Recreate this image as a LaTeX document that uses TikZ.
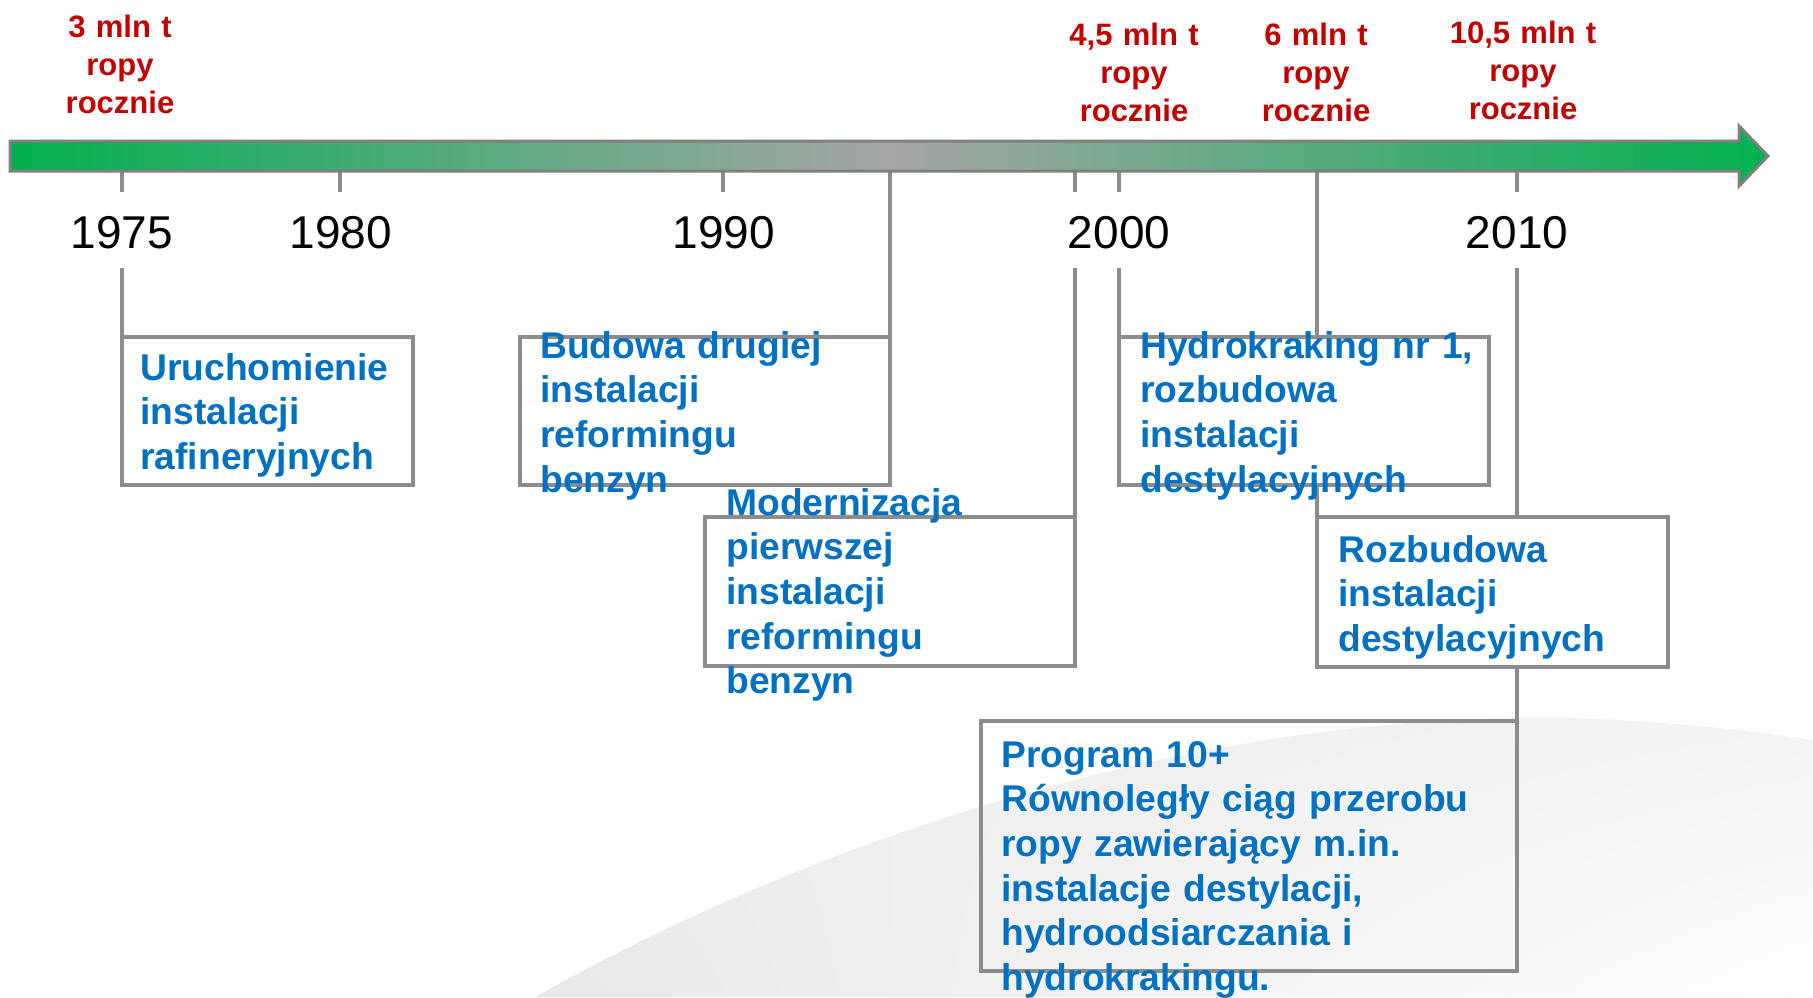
\documentclass[tikz,border=0pt]{standalone}
\usepackage{fontspec}
\setmainfont{Liberation Sans}
\usetikzlibrary{shadings}
\definecolor{zielony}{RGB}{0,176,80}
\definecolor{srodek}{RGB}{166,166,166}
\definecolor{obrys}{RGB}{128,128,128}
\definecolor{kreska}{RGB}{140,140,140}
\definecolor{czerwony}{RGB}{192,0,0}
\definecolor{niebieski}{RGB}{0,112,192}
\newcommand{\pxu}{0.5pt}
\begin{document}
\begin{tikzpicture}[x=0.5pt,y=-0.5pt,
		linia/.style={draw=kreska,line width=4*\pxu},
		ramka/.style={draw=kreska,line width=4*\pxu,anchor=north west,inner sep=0pt,outer sep=0pt},
		rok/.style={font=\fontsize{23}{27}\selectfont,text height=28pt,text depth=10pt,inner sep=0pt,anchor=base},
		ropa/.style={font=\bfseries\fontsize{15.5}{19}\selectfont,text=czerwony,text width=80pt,align=center,inner sep=0pt,anchor=base},
		opis/.style={font=\bfseries\fontsize{18.6}{22.35}\selectfont,text=niebieski,text width=300pt,align=left,inner sep=0pt,anchor=base west}]
	\useasboundingbox (0,0) rectangle (1813,997);
	% tlo
	\shade[upper left=black!7,upper right=black!5,lower left=black!9,lower right=white] (535,997) .. controls (850,820) and (1250,700) .. (1620,720) .. controls (1720,726) and (1780,735) .. (1813,740) -- (1813,997) -- cycle;
	% punkty na osi
	\coordinate (T75) at (122,171);
	\coordinate (T80) at (340,171);
	\coordinate (T90) at (723,171);
	\coordinate (T95) at (890,171);
	\coordinate (T98) at (1075,171);
	\coordinate (T00) at (1119,171);
	\coordinate (T05) at (1317,171);
	\coordinate (T10) at (1517,171);
	% lata
	\node[rok] (J75) at (122,248) {1975};
	\node[rok] (J80) at (341,248) {1980};
	\node[rok] (J90) at (724,248) {1990};
	\node[rok] (J00) at (1119,248) {2000};
	\node[rok] (J10) at (1517,248) {2010};
	% ramki
	\node[ramka,minimum width=291*\pxu,minimum height=148*\pxu] (B1) at (122,337) {};
	\node[ramka,minimum width=370*\pxu,minimum height=148*\pxu] (B2) at (520,337) {};
	\node[ramka,minimum width=370*\pxu,minimum height=149*\pxu] (B3) at (705,517) {};
	\node[ramka,minimum width=370*\pxu,minimum height=148*\pxu] (B4) at (1119,337) {};
	\node[ramka,minimum width=351*\pxu,minimum height=150*\pxu] (B5) at (1317,517) {};
	\node[ramka,minimum width=536*\pxu,minimum height=250*\pxu] (B6) at (981,721) {};
	% kreski
	\draw[linia] (T75) -- (T75 |- J75.north);
	\draw[linia] (T75 |- J75.south) -- (B1.north west);
	\draw[linia] (T80) -- (T80 |- J80.north);
	\draw[linia] (T90) -- (T90 |- J90.north);
	\draw[linia] (T95) -- (B2.north east);
	\draw[linia] (T98) -- (T98 |- J00.north);
	\draw[linia] (T98 |- J00.south) -- (B3.north east);
	\draw[linia] (T00) -- (T00 |- J00.north);
	\draw[linia] (T00 |- J00.south) -- (B4.north west);
	\draw[linia] (T05) -- (T05 |- B4.north);
	\draw[linia] (T05 |- B4.south) -- (B5.north west);
	\draw[linia] (T10) -- (T10 |- J10.north);
	\draw[linia] (T10 |- J10.south) -- (T10 |- B5.north);
	\draw[linia] (T10 |- B5.south) -- (B6.north east);
	% strzalka czasu
	\draw[draw=obrys,line width=3*\pxu,left color=zielony,right color=zielony,middle color=srodek] (10,141) -- (1739,141) -- (1739,126) -- (1768,156) -- (1739,186) -- (1739,171) -- (10,171) -- cycle;
	% przerob ropy
	\node[ropa] (P75) at (120,37) {3 mln t\\ropy\\rocznie};
	\node[ropa] (P00) at (1134,45) {4,5 mln t\\ropy\\rocznie};
	\node[ropa] (P05) at (1316,45) {6 mln t\\ropy\\rocznie};
	\node[ropa] (P10) at (1523,43) {10,5 mln t\\ropy\\rocznie};
	% opisy
	\node[opis] (L1) at (140,380) {Uruchomienie\\instalacji\\rafineryjnych};
	\node[opis] (L2) at (540,358) {Budowa drugiej\\instalacji\\reformingu\\benzyn};
	\node[opis] (L3) at (726,515) {Modernizacja\\pierwszej\\instalacji\\reformingu\\benzyn};
	\node[opis] (L4) at (1140,358) {Hydrokraking nr 1,\\rozbudowa\\instalacji\\destylacyjnych};
	\node[opis] (L5) at (1338,562) {Rozbudowa\\instalacji\\destylacyjnych};
	\node[opis] (L6) at (1001,767) {Program 10+\\Równoległy ciąg przerobu\\ropy zawierający m.in.\\instalacje destylacji,\\hydroodsiarczania i\\hydrokrakingu.};
\end{tikzpicture}
\end{document}
